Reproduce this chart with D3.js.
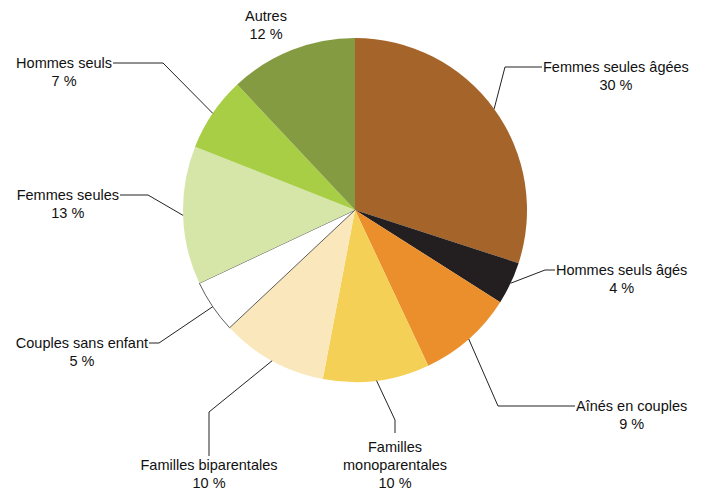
<!DOCTYPE html>
<html>
<head>
<meta charset="utf-8">
<script src="https://cdn.jsdelivr.net/npm/d3@7"></script>
<style>
  body { margin: 0; background: #fff; }
  text { font-family: "Liberation Sans", Arial, sans-serif; font-size: 14.5px; fill: #111; }
</style>
</head>
<body>
<svg id="canvas" width="704" height="490"></svg>
<script>
// Données (sens horaire depuis midi)
let categories = ['Femmes seules âgées', 'Hommes seuls âgés', 'Aînés en couples', 'Familles monoparentales',
                  'Familles biparentales', 'Couples sans enfant', 'Femmes seules', 'Hommes seuls', 'Autres']
let valeurs = [30, 4, 9, 10, 10, 5, 13, 7, 12]
let couleurs = ['#A5642A', '#231F20', '#EB8E2C', '#F4D057', '#FAE8BC', '#FFFFFF', '#D6E6A8', '#A7CE44', '#849B42']

// Mise en page des étiquettes : lignes de texte, coude du trait, fin du trait, ancrage du texte
let etiquettes = [
  { lignes: ['Femmes seules âgées'], coude: [505, 67], fin: [542, 67], cote: 'droite', y: 67 },
  { lignes: ['Hommes seuls âgés'], coude: [545, 270], fin: [555, 270], cote: 'droite', y: 270 },
  { lignes: ['Aînés en couples'], coude: [498, 406], fin: [575, 406], cote: 'droite', y: 406 },
  { lignes: ['Familles', 'monoparentales'], coude: [395, 420], fin: [395, 433], cote: 'bas', y: 447 },
  { lignes: ['Familles biparentales'], coude: [209, 412], fin: [209, 456], cote: 'bas', y: 465 },
  { lignes: ['Couples sans enfant'], coude: [159, 343], fin: [149, 343], cote: 'gauche', y: 343 },
  { lignes: ['Femmes seules'], coude: [148, 195], fin: [120, 195], cote: 'gauche', y: 195 },
  { lignes: ['Hommes seuls'], coude: [163, 63], fin: [113, 63], cote: 'gauche', y: 63 },
  { lignes: ['Autres'], coude: null, fin: [266, 16], cote: 'haut', y: 16 }
]

let canvas = d3.select('#canvas')
let cx = 355, cy = 210, rayon = 172
let g = canvas.append('g').attr('transform', `translate(${cx},${cy})`)

let pie = d3.pie().sort(null).value(d => d)
let arcs = pie(valeurs)
let arc = d3.arc().innerRadius(0).outerRadius(rayon)

g.selectAll('path')
  .data(arcs)
  .enter()
  .append('path')
  .attr('d', arc)
  .attr('fill', (d, i) => couleurs[i])
  .attr('stroke', (d, i) => couleurs[i] === '#FFFFFF' ? '#333' : 'none')
  .attr('stroke-width', 0.8)

// Traits de rappel : du bord du secteur (angle médian) au coude puis à la fin
let interligne = 18
arcs.forEach((d, i) => {
  let e = etiquettes[i]
  let a = (d.startAngle + d.endAngle) / 2
  let depart = [cx + rayon * Math.sin(a), cy - rayon * Math.cos(a)]
  if (e.coude) {
    canvas.append('polyline')
      .attr('points', [depart, e.coude, e.fin].map(p => p.join(',')).join(' '))
      .attr('fill', 'none')
      .attr('stroke', '#222')
      .attr('stroke-width', 1)
  }
  let lignes = e.lignes.concat([valeurs[i] + ' %'])
  let t = canvas.append('text').attr('text-anchor', 'middle')
  // largeur de la première ligne pour centrer le bloc
  let mesure = canvas.append('text').text(e.lignes[0])
  let w = mesure.node().getComputedTextLength()
  mesure.remove()
  let x
  if (e.cote === 'droite') x = e.fin[0] + 1 + w / 2
  else if (e.cote === 'gauche') x = e.fin[0] - 1 - w / 2
  else x = e.fin[0]
  lignes.forEach((l, k) => {
    t.append('tspan')
      .attr('x', x)
      .attr('y', e.y + k * interligne)
      .attr('dy', '0.35em')
      .text(l)
  })
})
</script>
</body>
</html>
